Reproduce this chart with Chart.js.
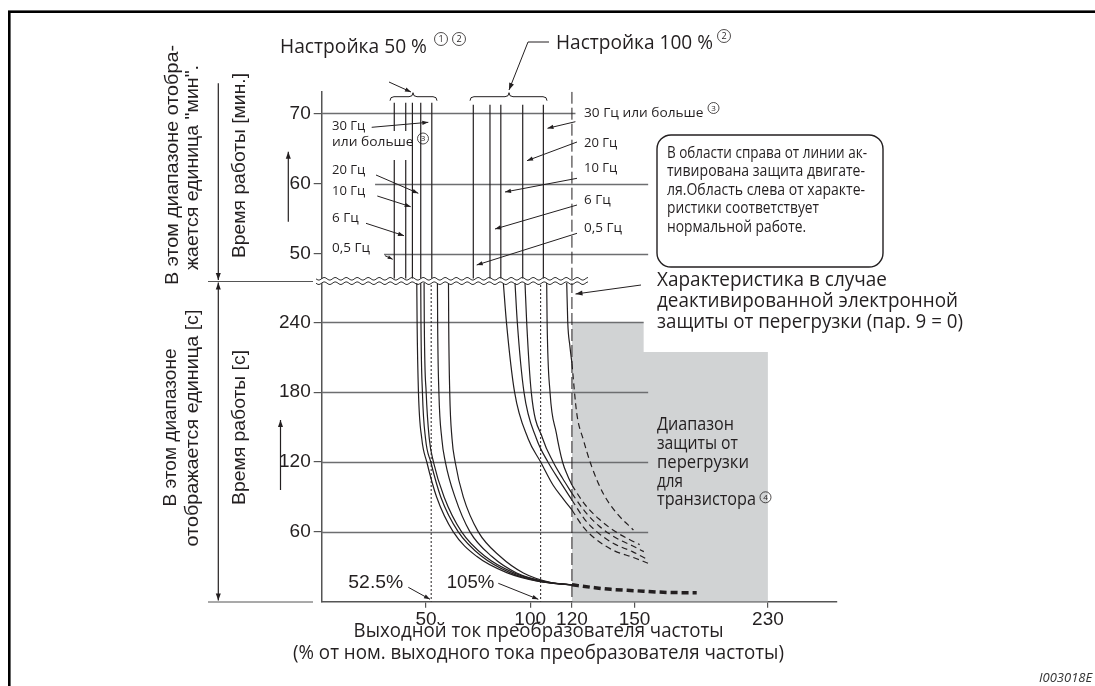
<!DOCTYPE html>
<html>
<head>
<meta charset="utf-8">
<script src="https://cdn.jsdelivr.net/npm/chart.js@4.4.1/dist/chart.umd.min.js"></script>
<style>
  html, body { margin: 0; padding: 0; background: #fff; }
  canvas { display: block; }
</style>
</head>
<body>
<canvas id="chart" width="1095" height="686"></canvas>
<script>
// Tick labels
var xTicks = [50, 100, 120, 150, 230];
var secTicks = [60, 120, 180, 240];
var minTicks = [50, 60, 70];

// Axis ranges (x in %, seconds, minutes)
var X_MAX = 271.4;
var SEC_MAX = 275.5;
var MIN_LO = 46.16, MIN_HI = 73.07;

// Minutes range: vertical characteristics (% current), top/bottom in minutes
var lines50Min = [34.8, 40.3, 43.5, 47.5, 52.8];
var lines100Min = [72.7, 80.7, 85.9, 96.4, 106.3];
var span50Min = [71.5, 46.5];
var span100Min = [71.2, 46.5];

// Seconds range: setting 50 % (0.5 / 6 / 10 / 20 / 30 Hz), [x %, t s]
var curves50 = [
  [[45.6,274],[45.75,240],[46.4,180],[48,140],[50.4,120],[55.1,90],[63.1,60],[74.3,39],[88.7,25],[104,17.5],[120,14.5]],
  [[47.5,274],[47.6,240],[48.3,180],[49.8,140],[52.3,120],[57.1,90],[65.5,60],[76.7,39],[90.3,25],[106,17],[120,14.5]],
  [[49.1,274],[49.2,240],[50.1,180],[51.6,140],[53.6,120],[58.7,90],[67.1,60],[78.3,39],[91.9,25],[107,17],[120,14.5]],
  [[55.5,274],[55.6,240],[56.2,180],[57.6,140],[59.3,120],[63.9,90],[71.1,60],[81.5,39],[93.5,24.7],[108.5,16.8],[120,14.5]],
  [[60.8,274],[60.9,240],[61.4,180],[62.5,140],[64,120],[67.9,90],[75.1,60],[85.5,39],[96.7,24.7],[110,16.5],[120,14.5]]
];
// Seconds range: setting 100 %
var curves100 = [
  [[87.1,274],[88.6,240],[92.5,180],[99,140],[105,120],[111,100],[116,88],[120,78.8]],
  [[92.7,274],[93.8,240],[97,180],[103,140],[108.5,120],[114,104],[120,87.4]],
  [[97.5,274],[98.3,240],[100.5,180],[106,140],[111,120],[115.5,106],[120,93.1]],
  [[107.9,274],[108.1,240],[109.5,180],[112.5,145],[115.5,120],[118,108],[120,100.2]],
  [[117.5,274],[118,240],[119,220],[120,204.7]]
];
// Continuation without electronic overload protection (dashed)
var curves100Off = [
  [[120,78.8],[125.5,64],[132,53],[140,44],[149.5,38],[158.1,33]],
  [[120,87.4],[126,71],[132,60],[140,50],[149,43],[156.9,37]],
  [[120,93.1],[126,78],[133,65],[141,55],[149,48],[155.6,43]],
  [[120,100.2],[126,84],[133,71],[141,60],[148,53],[153.1,49]],
  [[120,204.7],[122.3,162],[125.5,139],[129.5,116],[135,93],[141.5,76],[149.5,61.6]]
];
var overloadTail = [[120,14.5],[123,13.8],[131,12],[138.6,10.6],[149.5,9.5],[169.4,8],[187.3,7.7]];
// Transistor protection zone (grey)
var transistorZone = [[120,240],[155.5,240],[155.5,214.5],[230,214.5]];
var markers = [52.5, 105];
var protectLine = 120;

var ink = '#231f20';
var SANS = '"Open Sans", "Noto Sans", sans-serif';
var ARIAL = '"Liberation Sans", Arial, sans-serif';

// x axis is compressed above 150 %
function squeeze(v) { return v <= 150 ? v : 150 + (v - 150) * 0.8; }
function stretch(v) { return v <= 150 ? v : 150 + (v - 150) / 0.8; }

class BrokenScale extends Chart.LinearScale {
  getPixelForValue(value) {
    return super.getPixelForValue(value == null ? value : squeeze(value));
  }
  getValueForPixel(pixel) {
    return stretch(super.getValueForPixel(pixel));
  }
}
BrokenScale.id = 'broken';
BrokenScale.defaults = Chart.LinearScale.defaults;
Chart.register(BrokenScale);

function pts(arr) { return arr.map(function (p) { return {x: p[0], y: p[1]}; }); }

var datasets = [];
function add(ds) {
  datasets.push(Object.assign({
    pointRadius: 0, borderColor: ink, borderWidth: 1.2, fill: false,
    tension: 0, xAxisID: 'x', yAxisID: 'ySec'
  }, ds));
}
var smooth = {cubicInterpolationMode: 'monotone'};

add({data: pts(transistorZone), fill: 'origin', backgroundColor: '#d1d3d4', borderWidth: 0, order: 10});
lines50Min.forEach(function (v) {
  add({data: pts([[v, span50Min[0]], [v, span50Min[1]]]), yAxisID: 'yMin'});
});
lines100Min.forEach(function (v) {
  add({data: pts([[v, span100Min[0]], [v, span100Min[1]]]), yAxisID: 'yMin'});
});
add({data: pts([[protectLine, MIN_HI], [protectLine, MIN_LO]]), yAxisID: 'yMin', borderWidth: 1, borderDash: [12, 4]});
add({data: pts([[protectLine, SEC_MAX], [protectLine, 0]]), borderWidth: 1, borderDash: [12, 4]});
markers.forEach(function (v) {
  add({data: pts([[v, SEC_MAX], [v, 0]]), borderWidth: 1, borderDash: [2, 2]});
});
curves50.forEach(function (c) { add(Object.assign({data: pts(c)}, smooth)); });
curves100.forEach(function (c) { add(Object.assign({data: pts(c)}, smooth)); });
curves100Off.forEach(function (c) { add(Object.assign({data: pts(c), borderDash: [6, 4]}, smooth)); });
add(Object.assign({data: pts(overloadTail), borderWidth: 3.5, borderDash: [7, 4]}, smooth));

// ---------- drawing helpers ----------
function fit(c, str, x, y, size, width, family, style) {
  c.font = (style || '') + ' ' + size + 'px ' + family;
  var w = c.measureText(str).width;
  c.save();
  c.translate(x, y);
  if (width) c.scale(width / w, 1);
  c.textAlign = 'left';
  c.textBaseline = 'middle';
  c.fillText(str, 0, 0);
  c.restore();
}
function vtext(c, str, cx, cy, size, width, family) {
  c.font = size + 'px ' + family;
  var w = c.measureText(str).width;
  c.save();
  c.translate(cx, cy);
  c.rotate(-Math.PI / 2);
  if (width) c.scale(width / w, 1);
  c.textAlign = 'center';
  c.textBaseline = 'middle';
  c.fillText(str, 0, 0);
  c.restore();
}
// circled footnote number
function circ(c, n, cx, cy, r) {
  c.save();
  c.lineWidth = 0.8;
  c.beginPath();
  c.arc(cx, cy, r, 0, Math.PI * 2);
  c.stroke();
  c.font = Math.round(r * 1.45) + 'px ' + SANS;
  c.textAlign = 'center';
  c.textBaseline = 'middle';
  c.fillText(String(n), cx, cy + 0.5);
  c.restore();
}
function head(c, x1, y1, x2, y2, len) {
  var a = Math.atan2(y2 - y1, x2 - x1), w = len * 0.36;
  c.beginPath();
  c.moveTo(x2, y2);
  c.lineTo(x2 - len * Math.cos(a) + w * Math.sin(a), y2 - len * Math.sin(a) - w * Math.cos(a));
  c.lineTo(x2 - len * Math.cos(a) - w * Math.sin(a), y2 - len * Math.sin(a) + w * Math.cos(a));
  c.closePath();
  c.fill();
}
function arrow(c, p, len) {
  c.beginPath();
  c.moveTo(p[0][0], p[0][1]);
  for (var i = 1; i < p.length; i++) c.lineTo(p[i][0], p[i][1]);
  c.stroke();
  var n = p.length;
  head(c, p[n - 2][0], p[n - 2][1], p[n - 1][0], p[n - 1][1], len || 7);
}
function brace(c, x1, x2, xm, y) {
  c.beginPath();
  c.moveTo(x1, y + 4);
  c.quadraticCurveTo(x1, y, x1 + 4, y);
  c.lineTo(xm - 4, y);
  c.quadraticCurveTo(xm, y, xm, y - 4);
  c.quadraticCurveTo(xm, y, xm + 4, y);
  c.lineTo(x2 - 4, y);
  c.quadraticCurveTo(x2, y, x2, y + 4);
  c.stroke();
}
function wave(c, x1, x2, y) {
  c.beginPath();
  for (var x = x1; x <= x2; x += 1) {
    var yy = y + 1.3 * Math.sin((x - x1) / 11 * 2 * Math.PI);
    if (x === x1) c.moveTo(x, yy); else c.lineTo(x, yy);
  }
  c.stroke();
}

var sketch = {
  id: 'sketch',
  afterDatasetDraw: function (chart, args, opts) {
    if (args.index !== 0) return;
    // partial grid lines, drawn above the grey zone
    var c = chart.ctx, xs = chart.scales.x;
    c.save();
    c.strokeStyle = '#6d6e70';
    c.lineWidth = 1.3;
    [['ySec', opts.secGrid], ['yMin', opts.minGrid]].forEach(function (g) {
      var ys = chart.scales[g[0]];
      g[1].forEach(function (r) {
        var y = Math.round(ys.getPixelForValue(r[0])) + 0.5;
        c.beginPath();
        c.moveTo(xs.getPixelForValue(r[1]), y);
        c.lineTo(xs.getPixelForValue(r[2]), y);
        c.stroke();
      });
    });
    c.restore();
  },
  afterDraw: function (chart) {
    var c = chart.ctx;
    c.save();
    // gap in the two left lines behind "или больше"
    c.fillStyle = '#fff';
    c.fillRect(330, 131, 79, 29);

    // break of the y axis
    c.strokeStyle = '#333';
    c.lineWidth = 1;
    c.fillRect(316, 279, 272, 4);
    wave(c, 316, 588, 278.8);
    wave(c, 316, 588, 283.2);

    c.fillStyle = ink;
    c.strokeStyle = ink;
    c.lineWidth = 1;

    // headers
    fit(c, 'Настройка 50 %', 280, 47, 20, 147, SANS);
    circ(c, 1, 441, 39, 6.5);
    circ(c, 2, 459, 39, 6.5);
    fit(c, 'Настройка 100 %', 556, 43, 20, 157, SANS);
    circ(c, 2, 724, 36, 6.5);
    arrow(c, [[549, 42], [528, 42], [509, 90]], 7);
    arrow(c, [[389, 82], [411, 92]], 6);
    brace(c, 390, 437, 413, 96.7);
    brace(c, 470, 547, 509, 96.7);

    // frequency labels, setting 50 %
    fit(c, '30 Гц', 332, 126, 13.5, 33.3, SANS);
    fit(c, 'или больше', 332, 142, 13.5, 81.6, SANS);
    circ(c, 3, 423, 138.5, 5.5);
    fit(c, '20 Гц', 332, 170, 13.5, 33.3, SANS);
    fit(c, '10 Гц', 332, 191, 13.5, 33.3, SANS);
    fit(c, '6 Гц', 332, 218, 13.5, null, SANS);
    fit(c, '0,5 Гц', 332, 248.5, 13.5, null, SANS);
    arrow(c, [[371.7, 127.3], [428.3, 122.3]], 6);
    arrow(c, [[376, 175], [418.3, 193.3]], 6);
    arrow(c, [[377.3, 196], [410.7, 206.7]], 6);
    arrow(c, [[366, 223.3], [404, 235.7]], 6);
    arrow(c, [[385, 255.7], [392.7, 259.3]], 5);

    // frequency labels, setting 100 %
    fit(c, '30 Гц или больше', 584, 113, 13.5, 119.5, SANS);
    circ(c, 3, 713.5, 108, 5.5);
    fit(c, '20 Гц', 584, 143, 13.5, 33.3, SANS);
    fit(c, '10 Гц', 584, 168.5, 13.5, 33.3, SANS);
    fit(c, '6 Гц', 584, 200, 13.5, null, SANS);
    fit(c, '0,5 Гц', 584, 228, 13.5, null, SANS);
    arrow(c, [[575.4, 121.7], [547.5, 128.3]], 6);
    arrow(c, [[577, 142], [527, 160.7]], 6);
    arrow(c, [[577, 178.3], [505, 192]], 6);
    arrow(c, [[577, 205], [495, 229]], 6);
    arrow(c, [[577, 233.3], [476.7, 265]], 6);

    // note box
    c.lineWidth = 1.4;
    c.beginPath();
    c.roundRect(657, 135, 226, 132, 14);
    c.stroke();
    var boxLines = ['В области справа от линии ак-', 'тивирована защита двигате-',
      'ля.Область слева от характе-', 'ристики соответствует', 'нормальной работе.'];
    var boxW = [200, 198, 198, 152, 139];
    var boxY = [153.3, 171.7, 190, 208.3, 227.7];
    boxLines.forEach(function (s, i) { fit(c, s, 667, boxY[i], 16, boxW[i], SANS); });

    // characteristic without protection
    c.lineWidth = 1;
    fit(c, 'Характеристика в случае', 657, 280, 20, 230, SANS);
    fit(c, 'деактивированной электронной', 657, 301, 20, 301, SANS);
    fit(c, 'защиты от перегрузки (пар. 9 = 0)', 657, 322, 20, 306, SANS);
    arrow(c, [[641, 285], [575.5, 294]], 7);

    // transistor zone label
    fit(c, 'Диапазон', 657, 425, 18, 77, SANS);
    fit(c, 'защиты от', 657, 444.3, 18, 81, SANS);
    fit(c, 'перегрузки', 657, 462.7, 18, 92, SANS);
    fit(c, 'для', 657, 481.7, 18, 26, SANS);
    fit(c, 'транзистора', 657, 500, 18, 99, SANS);
    circ(c, 4, 765.5, 497.3, 5.5);

    // percentage markers
    fit(c, '52.5%', 348.3, 582.3, 19, 55, ARIAL);
    fit(c, '105%', 446.7, 582.3, 19, 47.6, ARIAL);
    arrow(c, [[408.3, 587.3], [430, 599.3]], 6);
    arrow(c, [[498.3, 583.3], [538.3, 599.3]], 6);

    // x title
    fit(c, 'Выходной ток преобразователя частоты', 353.6, 631.7, 20, 370, SANS);
    fit(c, '(% от ном. выходного тока преобразователя частоты)', 293, 653, 20, 491, SANS);

    // left side annotations
    vtext(c, 'В этом диапазоне отобра-', 172.7, 165, 19, 240, ARIAL);
    vtext(c, 'жается единица "мин".', 193, 167.5, 19, 205, ARIAL);
    vtext(c, 'Время работы [мин.]', 240, 165.5, 19, 185, ARIAL);
    vtext(c, 'В этом диапазоне', 171, 427.5, 19, 158, ARIAL);
    vtext(c, 'отображается единица [с]', 193, 428, 19, 237, ARIAL);
    vtext(c, 'Время работы [с]', 239.5, 427.5, 19, 155, ARIAL);
    c.lineWidth = 1.2;
    arrow(c, [[288.3, 221.7], [288.3, 151.7]], 7);
    arrow(c, [[280.5, 490], [280.5, 420]], 7);
    arrow(c, [[218.3, 83.3], [218.3, 280]], 7);
    arrow(c, [[218.3, 440], [218.3, 282.5]], 7);
    arrow(c, [[218.3, 440], [218.3, 600.5]], 7);
    c.strokeStyle = '#555';
    c.beginPath();
    c.moveTo(208, 281.5); c.lineTo(313, 281.5);
    c.moveTo(208, 602); c.lineTo(313, 602);
    c.stroke();

    // frame and figure id
    c.strokeStyle = '#000';
    c.lineWidth = 2.6;
    c.strokeRect(9.3, 11.7, 1300, 900);
    c.fillStyle = '#333';
    fit(c, 'I003018E', 1039, 678, 13, null, SANS, 'italic');
    c.restore();
  }
};

function tickCfg(len, pad) {
  return {
    grid: {drawOnChartArea: false, drawTicks: true, tickLength: len, color: '#555', lineWidth: 1.2},
    border: {display: true, color: '#555', width: 1.5},
    ticks: {font: {family: 'Liberation Sans', size: 19}, color: ink, padding: pad,
      autoSkip: false, maxRotation: 0, callback: function (v) { return String(v); }}
  };
}

var scales = {
  x: Object.assign({
    type: 'broken', min: 0, max: squeeze(X_MAX), bounds: 'data',
    afterBuildTicks: function (s) { s.ticks = xTicks.map(function (v) { return {value: v}; }); },
    afterFit: function (s) { s.height = 30; }
  }, tickCfg(6, 1)),
  ySec: Object.assign({
    type: 'linear', position: 'left', stack: 'time', stackWeight: 320.7, weight: 0,
    min: 0, max: SEC_MAX, bounds: 'data',
    afterBuildTicks: function (s) { s.ticks = secTicks.map(function (v) { return {value: v}; }); },
    afterFit: function (s) { s.width = 60; }
  }, tickCfg(8, 3)),
  yMin: Object.assign({
    type: 'linear', position: 'left', stack: 'time', stackWeight: 189.3, weight: 1,
    min: MIN_LO, max: MIN_HI, bounds: 'data',
    afterBuildTicks: function (s) { s.ticks = minTicks.map(function (v) { return {value: v}; }); },
    afterFit: function (s) { s.width = 60; }
  }, tickCfg(8, 3))
};

new Chart(document.getElementById('chart').getContext('2d'), {
  type: 'line',
  data: {datasets: datasets},
  options: {
    responsive: false,
    animation: false,
    devicePixelRatio: 1,
    layout: {padding: {left: 261.7, right: 258, top: 91.7, bottom: 54.3}},
    plugins: {
      legend: {display: false},
      tooltip: {enabled: false},
      sketch: {
        secGrid: [[240, 0, 155.5], [180, 0, 158.2], [120, 0, 158.2], [60, 0, 158.2]],
        minGrid: [[70, 0, 121.7], [60, 25.6, 158.2], [50, 29.9, 158.2]]
      }
    },
    scales: scales
  },
  plugins: [sketch]
});
</script>
</body>
</html>
